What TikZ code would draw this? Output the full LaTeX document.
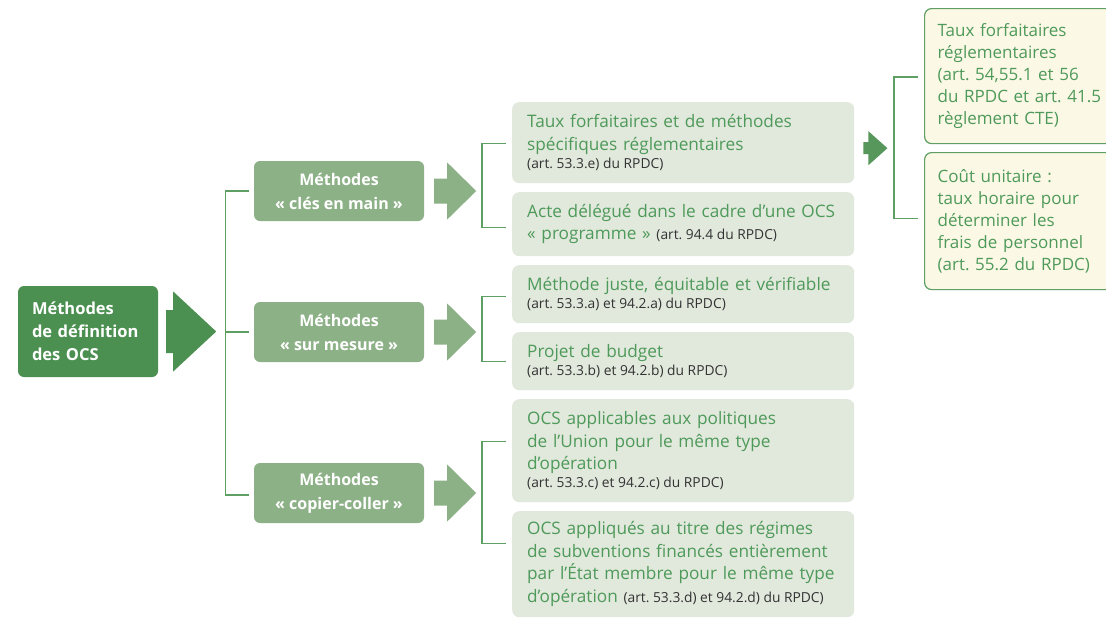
\documentclass[tikz,border=0pt]{standalone}
\usepackage{fontspec}
\setmainfont{Open Sans}
\usetikzlibrary{positioning}
\usetikzlibrary{calc}
\definecolor{ocsdark}{HTML}{4B9051}
\definecolor{ocsmid}{HTML}{8DB187}
\definecolor{ocslight}{HTML}{E1E8DC}
\definecolor{ocstext}{HTML}{4E9A5A}
\definecolor{ocsline}{HTML}{5E9F64}
\definecolor{ocscream}{HTML}{FCF8E6}
\definecolor{ocsnote}{HTML}{333333}
\frenchspacing
\newcommand\artref[1]{{\fontsize{13.8}{15}\selectfont\spaceskip=0pt\xspaceskip=0pt\color{ocsnote}#1}}
\tikzstyle{root}=[fill=ocsdark, rounded corners=6pt, text=white, font=\fontsize{16.5}{23}\selectfont\bfseries, align=left, text width=112pt, minimum width=140pt, minimum height=91pt, inner xsep=14pt]
\tikzstyle{method}=[fill=ocsmid, rounded corners=6pt, text=white, font=\fontsize{16}{24}\selectfont\bfseries, align=center, minimum width=170pt, minimum height=60pt]
\tikzstyle{leaf}=[fill=ocslight, rounded corners=7pt, text=ocstext, font=\fontsize{17.2}{22.5}\selectfont, align=left, text width=312pt, inner xsep=15pt, anchor=north west]
\tikzstyle{rate}=[fill=ocscream, draw=ocsline, line width=1.2pt, rounded corners=7pt, text=ocstext, font=\fontsize{17}{22}\selectfont, align=left, text width=170pt, inner xsep=13pt, anchor=north west]
\tikzstyle{rule}=[draw=ocsline, line width=1.3pt]
\tikzset{
  bigarrow/.pic={\fill[ocsdark] (0,-21.5) -- (7,-21.5) -- (7,-40) -- (50,0) -- (7,40) -- (7,21.5) -- (0,21.5) -- cycle;},
  midarrow/.pic={\fill[ocsmid] (0,-12.5) -- (13,-12.5) -- (13,-28.5) -- (42,0) -- (13,28.5) -- (13,12.5) -- (0,12.5) -- cycle;},
  tinyarrow/.pic={\fill[ocsdark!80!ocsmid] (0,-6) -- (5,-6) -- (5,-17) -- (24,0) -- (5,17) -- (5,6) -- (0,6) -- cycle;}
}
\begin{document}
\begin{tikzpicture}[x=1pt, y=-1pt]
  \useasboundingbox[fill=white] (0,0) rectangle (1106,619);

  \node[root] (ocs) at (88,331.5) {Méthodes\\de définition\\des OCS};

  \node[method] (cles) at (339,191) {Méthodes\\« clés en main »};
  \node[method] (mesure) at (339,332) {Méthodes\\« sur mesure »};
  \node[method] (copier) at (339,493) {Méthodes\\« copier-coller »};

  \node[leaf, minimum height=81pt] (taux) at (512,102) {Taux forfaitaires et de méthodes\\spécifiques réglementaires\\[-4.5pt]\artref{(art. 53.3.e) du RPDC)}};
  \node[leaf, minimum height=64pt] (acte) at (512,192) {Acte délégué dans le cadre d’une OCS\\« programme » \artref{(art. 94.4 du RPDC)}};
  \node[leaf, minimum height=58pt] (juste) at (512,265) {Méthode juste, équitable et vérifiable\\[-5pt]\artref{(art. 53.3.a) et 94.2.a) du RPDC)}};
  \node[leaf, minimum height=58pt] (budget) at (512,332) {Projet de budget\\[-5pt]\artref{(art. 53.3.b) et 94.2.b) du RPDC)}};
  \node[leaf, minimum height=103pt] (union) at (512,399) {OCS applicables aux politiques\\de l’Union pour le même type\\d’opération\\[-4.5pt]\artref{(art. 53.3.c) et 94.2.c) du RPDC)}};
  \node[leaf, minimum height=106pt] (etat) at (512,511) {OCS appliqués au titre des régimes\\de subventions financés entièrement\\par l’État membre pour le même type\\d’opération \artref{(art. 53.3.d) et 94.2.d) du RPDC)}};

  \node[rate, minimum height=135pt] (forfait) at (924,8) {Taux forfaitaires\\réglementaires\\(art. 54,55.1 et 56\\du RPDC et art. 41.5\\règlement CTE)};
  \node[rate, minimum height=137pt] (unitaire) at (924,152) {Coût unitaire :\\taux horaire pour\\déterminer les\\frais de personnel\\(art. 55.2 du RPDC)};

  \pic at ($(ocs.east)+(8,0)$) {bigarrow};
  \pic at ($(cles.east)+(10,0)$) {midarrow};
  \pic at ($(mesure.east)+(10,0)$) {midarrow};
  \pic at ($(copier.east)+(10,0)$) {midarrow};
  \pic at ($(taux.east)+(9,5.5)$) {tinyarrow};

  \draw[rule] ($(cles.west)+(-5,0)$) -- ++(-23,0) |- ($(copier.west)+(-5,2)$);
  \draw[rule] ($(mesure.west)+(-5,0)$) -- ++(-23,0);

  \draw[rule] ($(taux.west)+(-6,0.5)$) -- ++(-24,0) |- ($(acte.west)+(-6,3)$);
  \draw[rule] ($(juste.west)+(-6,2)$) -- ++(-24,0) |- ($(budget.west)+(-6,0)$);
  \draw[rule] ($(union.west)+(-6,-9.5)$) -- ++(-24,0) |- ($(etat.west)+(-6,-20.5)$);

  \draw[rule] ($(forfait.west)+(-6,1)$) -- ++(-24,0) |- ($(unitaire.west)+(-6,-2.5)$);
\end{tikzpicture}
\end{document}
